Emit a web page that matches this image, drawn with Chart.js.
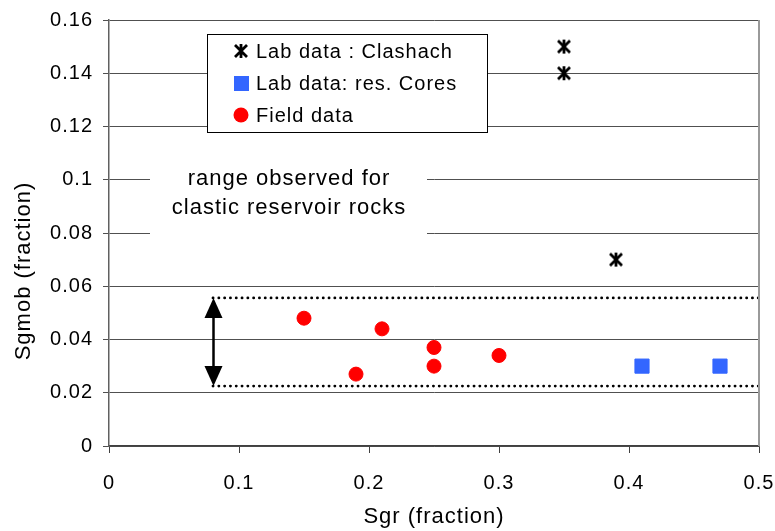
<!DOCTYPE html>
<html>
<head>
<meta charset="utf-8">
<script src="https://cdn.jsdelivr.net/npm/chart.js@4.4.0/dist/chart.umd.min.js"></script>
<style>
  html, body { margin: 0; padding: 0; background: #fff; }
  #wrap { width: 775px; height: 531px; position: relative; }
</style>
</head>
<body>
<div id="wrap"><canvas id="sgmob"></canvas></div>
<script>
// Sgmob vs Sgr
const clashachX = [0.35, 0.35, 0.39];
const clashachY = [0.15, 0.14, 0.07];
const coresX = [0.41, 0.47];
const coresY = [0.03, 0.03];
const fieldX = [0.15, 0.19, 0.21, 0.25, 0.25, 0.30];
const fieldY = [0.048, 0.027, 0.044, 0.037, 0.030, 0.034];
const rangeX = [0.08, 0.5];
const rangeLow = 0.0225;
const rangeHigh = 0.0556;
const xTicks = [0, 0.1, 0.2, 0.3, 0.4, 0.5];
const yTicks = [0, 0.02, 0.04, 0.06, 0.08, 0.1, 0.12, 0.14, 0.16];
const legendLabels = ["Lab data : Clashach", "Lab data: res. Cores", "Field data"];
const noteLines = ["range observed for", "clastic reservoir rocks"];
const xTitle = "Sgr (fraction)";
const yTitle = "Sgmob (fraction)";

const FONT = "'Liberation Sans', Arial, sans-serif";
const RED = "#ff0000";
const BLUE = "#3366ff";

function pts(xs, ys) {
  return xs.map((x, i) => ({ x: x, y: ys[i] }));
}

// asterisk marker: X with vertical bar
function starMark() {
  const c = document.createElement("canvas");
  c.width = 16;
  c.height = 16;
  const g = c.getContext("2d");
  g.strokeStyle = "#000";
  g.lineWidth = 2.8;
  g.beginPath();
  g.moveTo(2, 2); g.lineTo(14, 14);
  g.moveTo(14, 2); g.lineTo(2, 14);
  g.moveTo(8, 1); g.lineTo(8, 15);
  g.stroke();
  return c;
}
const star = starMark();

const dotted = {
  type: "line",
  showLine: true,
  borderColor: "#000",
  borderWidth: 2.8,
  borderDash: [0.1, 5.7],
  borderCapStyle: "round",
  pointRadius: 0,
  pointHoverRadius: 0
};

const data = {
  datasets: [
    Object.assign({ label: "high", data: pts(rangeX, [rangeHigh, rangeHigh]) }, dotted),
    Object.assign({ label: "low", data: pts(rangeX, [rangeLow, rangeLow]) }, dotted),
    {
      label: legendLabels[0],
      data: pts(clashachX, clashachY),
      pointStyle: star,
      pointRadius: 8
    },
    {
      label: legendLabels[1],
      data: pts(coresX, coresY),
      pointStyle: "rect",
      pointRadius: 10,
      backgroundColor: BLUE,
      borderColor: BLUE,
      borderWidth: 1
    },
    {
      label: legendLabels[2],
      data: pts(fieldX, fieldY),
      pointStyle: "circle",
      pointRadius: 7,
      backgroundColor: RED,
      borderColor: RED,
      borderWidth: 1
    }
  ]
};

const extras = {
  id: "extras",
  beforeDraw(chart) {
    chart.ctx.letterSpacing = "1px";
  },
  afterDatasetsDraw(chart) {
    const ctx = chart.ctx;
    const a = chart.chartArea;
    const xs = chart.scales.x;
    const ys = chart.scales.y;
    ctx.save();

    // right border of plot area
    ctx.strokeStyle = "#9a9a9a";
    ctx.lineWidth = 2;
    ctx.beginPath();
    ctx.moveTo(a.right, a.top);
    ctx.lineTo(a.right, a.bottom);
    ctx.stroke();

    // double arrow for the range
    const ax = Math.round(xs.getPixelForValue(rangeX[0])) + 0.5;
    const yTop = ys.getPixelForValue(rangeHigh);
    const yBot = ys.getPixelForValue(rangeLow);
    const headH = 20, headW = 9;
    ctx.strokeStyle = "#000";
    ctx.fillStyle = "#000";
    ctx.lineWidth = 2.5;
    ctx.beginPath();
    ctx.moveTo(ax, yTop + headH);
    ctx.lineTo(ax, yBot - headH);
    ctx.stroke();
    ctx.beginPath();
    ctx.moveTo(ax, yTop);
    ctx.lineTo(ax - headW, yTop + headH);
    ctx.lineTo(ax + headW, yTop + headH);
    ctx.closePath();
    ctx.fill();
    ctx.beginPath();
    ctx.moveTo(ax, yBot);
    ctx.lineTo(ax - headW, yBot - headH);
    ctx.lineTo(ax + headW, yBot - headH);
    ctx.closePath();
    ctx.fill();

    // note text box
    ctx.fillStyle = "#fff";
    ctx.fillRect(a.left + 41, a.top + 145, 277, 80);
    ctx.fillStyle = "#000";
    ctx.font = "22px " + FONT;
    ctx.textAlign = "center";
    ctx.textBaseline = "middle";
    ctx.fillText(noteLines[0], a.left + 180, a.top + 159);
    ctx.fillText(noteLines[1], a.left + 180, a.top + 188);

    // legend box
    const lx = a.left + 98, ly = a.top + 14, lw = 280, lh = 98;
    ctx.fillStyle = "#fff";
    ctx.fillRect(lx, ly, lw, lh);
    ctx.strokeStyle = "#000";
    ctx.lineWidth = 1;
    ctx.strokeRect(lx + 0.5, ly + 0.5, lw, lh);
    const mx = lx + 34;
    const rows = [ly + 17, ly + 49, ly + 81];
    ctx.drawImage(star, mx - 8, rows[0] - 8);
    ctx.fillStyle = BLUE;
    ctx.fillRect(mx - 7, rows[1] - 7, 15, 15);
    ctx.fillStyle = RED;
    ctx.beginPath();
    ctx.arc(mx, rows[2], 7.5, 0, Math.PI * 2);
    ctx.fill();
    ctx.fillStyle = "#000";
    ctx.font = "20px " + FONT;
    ctx.textAlign = "left";
    legendLabels.forEach((t, i) => ctx.fillText(t, mx + 15, rows[i] + 1));

    // axis titles
    ctx.font = "22px " + FONT;
    ctx.textAlign = "center";
    ctx.fillText(xTitle, (a.left + a.right) / 2, 517);
    ctx.translate(24, 271);
    ctx.rotate(-Math.PI / 2);
    ctx.fillText(yTitle, 0, 0);
    ctx.restore();
  }
};

const options = {
  responsive: true,
  maintainAspectRatio: false,
  animation: false,
  layout: { padding: { top: 20, right: 16, left: 0, bottom: 0 } },
  scales: {
    x: {
      type: "linear",
      min: 0,
      max: 0.5,
      afterBuildTicks: s => { s.ticks = xTicks.map(v => ({ value: v })); },
      afterFit: s => { s.height = 85; s.paddingLeft = 0; s.paddingRight = 0; },
      ticks: {
        color: "#000",
        font: { family: FONT, size: 20 },
        padding: 18,
        maxRotation: 0,
        callback: v => String(v)
      },
      grid: { drawOnChartArea: false, drawTicks: true, tickLength: 7, color: "#404040" },
      border: { color: "#404040", width: 1.5 }
    },
    y: {
      type: "linear",
      min: 0,
      max: 0.16,
      afterBuildTicks: s => { s.ticks = yTicks.map(v => ({ value: v })); },
      afterFit: s => { s.width = 109; s.paddingTop = 0; s.paddingBottom = 0; },
      ticks: {
        color: "#000",
        font: { family: FONT, size: 20 },
        padding: 10,
        callback: v => String(v)
      },
      grid: { color: "#505050", lineWidth: 1, drawTicks: true, tickLength: 6 },
      border: { color: "#606060", width: 1.5 }
    }
  },
  plugins: {
    legend: { display: false },
    tooltip: { enabled: false }
  }
};

new Chart(document.getElementById("sgmob").getContext("2d"), {
  type: "scatter",
  data: data,
  options: options,
  plugins: [extras]
});
</script>
</body>
</html>
